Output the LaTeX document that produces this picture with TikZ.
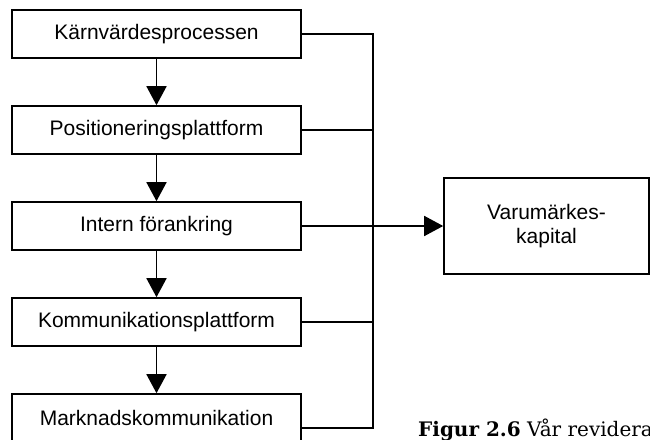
\documentclass[tikz,border=0pt]{standalone}
\usepackage{fontspec}
\setmainfont{Liberation Sans}
\newfontfamily\capfont{DejaVu Serif}
\usetikzlibrary{arrows.meta}
\begin{document}
\begin{tikzpicture}[x=1pt,y=-1pt,
  stage/.style={draw, line width=1.6pt, minimum width=289pt, minimum height=48pt,
    inner sep=0pt, font=\fontsize{21}{24}\selectfont},
  result/.style={draw, line width=1.6pt, minimum width=205pt, minimum height=96pt,
    inner sep=0pt, align=center, font=\fontsize{21}{24}\selectfont},
  flow/.style={line width=1.6pt, -{Triangle[length=19pt,width=20pt]}},
  link/.style={line width=1.6pt}]
\useasboundingbox (0,0) rectangle (650,439);

% process chain
\node[stage] (b1) at (156.5,34)  {Kärnvärdesprocessen};
\node[stage] (b2) at (156.5,130) {Positioneringsplattform};
\node[stage] (b3) at (156.5,226) {Intern förankring};
\node[stage] (b4) at (156.5,322) {Kommunikationsplattform};
\node[stage] (b5) at (156.5,418) {Marknadskommunikation};

% outcome
\node[result] (vk) at (546.5,226) {Varumärkes-\\kapital};

\draw[flow] (b1) -- (b2);
\draw[flow] (b2) -- (b3);
\draw[flow] (b3) -- (b4);
\draw[flow] (b4) -- (b5);

% collecting bus on the right
\coordinate (j1) at (373,34);
\coordinate (j5) at (373,428);
\coordinate (b5out) at (301,428);
\draw[link] (b1.east) -- (j1) -- (j5) -- (b5out);
\draw[link] (b2.east) -- (b2.east -| j1);
\draw[link] (b4.east) -- (b4.east -| j1);
\draw[flow] (b3.east) -- (vk.west);

% caption
\node[anchor=base west, inner sep=0pt, font=\capfont\fontsize{20}{24}\selectfont]
  (cap) at (418,436) {\textbf{Figur 2.6} Vår revidera};
\end{tikzpicture}
\end{document}
